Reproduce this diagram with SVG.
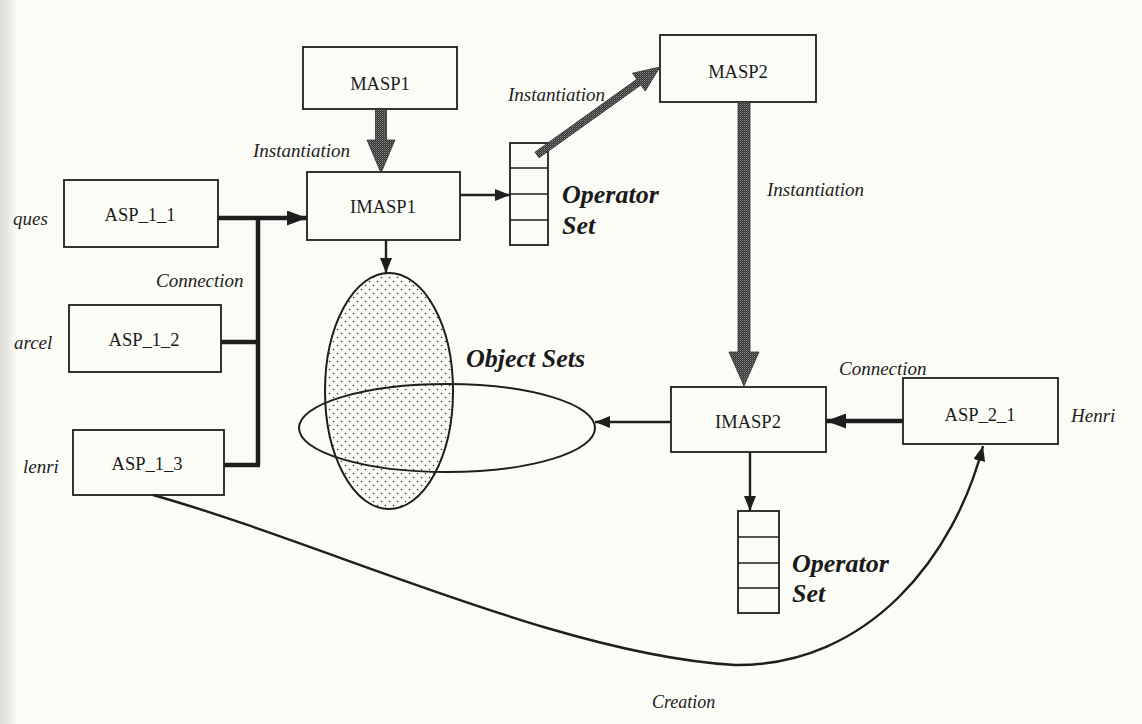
<svg xmlns="http://www.w3.org/2000/svg" width="1142" height="724" viewBox="0 0 1142 724">
<style>
.box{fill:none;stroke:#1e1e1e;stroke-width:1.8}
.lbl{font-family:"Liberation Serif","Times New Roman",serif;font-size:18.5px;fill:#1a1a1a;text-anchor:middle}
.it{font-family:"Liberation Serif","Times New Roman",serif;font-style:italic;font-size:19px;fill:#1e1e1e}
.bi{font-family:"Liberation Serif","Times New Roman",serif;font-style:italic;font-weight:bold;font-size:26px;fill:#1a1a1a}
.thin{fill:none;stroke:#1e1e1e;stroke-width:2.4}
.thick{fill:none;stroke:#1e1e1e;stroke-width:4.5}
.grey{fill:url(#dither);stroke:#2e2e2e;stroke-width:0.8}
.cell{stroke:#1e1e1e;stroke-width:1.6}
</style>
<defs>
<linearGradient id="gutter" x1="0" y1="0" x2="1" y2="0">
<stop offset="0" stop-color="#000" stop-opacity="0.13"/>
<stop offset="1" stop-color="#000" stop-opacity="0"/>
</linearGradient>
<pattern id="dots" patternUnits="userSpaceOnUse" width="8" height="8">
<circle cx="1.5" cy="1.5" r="0.8" fill="#333"/>
<circle cx="5.5" cy="5.5" r="0.8" fill="#333"/>
</pattern>
<pattern id="dither" patternUnits="userSpaceOnUse" width="2" height="2">
<rect width="2" height="2" fill="#333"/>
<rect width="1" height="1" fill="#8a8a8a"/>
<rect x="1" y="1" width="1" height="1" fill="#5a5a5a"/>
</pattern>
<marker id="ah" markerUnits="userSpaceOnUse" markerWidth="15" markerHeight="12" refX="15" refY="6" orient="auto">
<path d="M0,0 L15,6 L0,12 z" fill="#1e1e1e"/>
</marker>
<marker id="ahb" markerUnits="userSpaceOnUse" markerWidth="20" markerHeight="15" refX="20" refY="7.5" orient="auto">
<path d="M0,0 L20,7.5 L0,15 z" fill="#1e1e1e"/>
</marker>
</defs>
<rect width="1142" height="724" fill="#fcfcf7"/>
<rect width="18" height="724" fill="url(#gutter)"/>

<g id="object-sets">
<ellipse cx="389" cy="391" rx="64" ry="118" fill="url(#dots)" stroke="#1e1e1e" stroke-width="2"/>
<ellipse cx="447" cy="428" rx="148" ry="44" fill="none" stroke="#1e1e1e" stroke-width="2"/>
<text class="bi" x="466" y="367">Object Sets</text>
</g>

<g id="MASP1">
<rect class="box" x="303" y="47" width="154" height="62"/>
<text class="lbl" x="380" y="90">MASP1</text>
</g>
<g id="IMASP1">
<rect class="box" x="307" y="172" width="153" height="68"/>
<text class="lbl" x="383" y="213">IMASP1</text>
</g>
<g id="MASP2">
<rect class="box" x="660" y="35" width="156" height="67"/>
<text class="lbl" x="738" y="78">MASP2</text>
</g>
<g id="IMASP2">
<rect class="box" x="671" y="387" width="155" height="65"/>
<text class="lbl" x="748" y="428">IMASP2</text>
</g>
<g id="ASP_1_1">
<rect class="box" x="64" y="180" width="154" height="67"/>
<text class="lbl" x="140" y="221">ASP_1_1</text>
<text class="it" x="13" y="225">ques</text>
</g>
<g id="ASP_1_2">
<rect class="box" x="69" y="305" width="152" height="67"/>
<text class="lbl" x="144" y="346">ASP_1_2</text>
<text class="it" x="14" y="349">arcel</text>
</g>
<g id="ASP_1_3">
<rect class="box" x="73" y="430" width="151" height="65"/>
<text class="lbl" x="147" y="470">ASP_1_3</text>
<text class="it" x="23" y="473">lenri</text>
</g>
<g id="ASP_2_1">
<rect class="box" x="903" y="378" width="155" height="66"/>
<text class="lbl" x="980" y="421">ASP_2_1</text>
<text class="it" x="1071" y="422">Henri</text>
</g>
<g id="operator-set-1">
<rect class="box" x="510" y="143" width="38" height="102"/>
<line class="cell" x1="510" y1="168" x2="548" y2="168"/>
<line class="cell" x1="510" y1="194" x2="548" y2="194"/>
<line class="cell" x1="510" y1="220" x2="548" y2="220"/>
<text class="bi" x="562" y="203">Operator</text>
<text class="bi" x="562" y="234">Set</text>
</g>
<g id="operator-set-2">
<rect class="box" x="738" y="511" width="41" height="102"/>
<line class="cell" x1="738" y1="537" x2="779" y2="537"/>
<line class="cell" x1="738" y1="563" x2="779" y2="563"/>
<line class="cell" x1="738" y1="588" x2="779" y2="588"/>
<text class="bi" x="792" y="572">Operator</text>
<text class="bi" x="792" y="602">Set</text>
</g>

<g id="connectors">
<polygon class="grey" points="375.5,109 386.5,109 386.5,140 395,140 381,173 367,140 375.5,140"/>
<polygon class="grey" points="738,102 750,102 750,352 759,352 744,386 729,352 738,352"/>
<polygon class="grey" points="534.96,152.15 636.81,79.28 632.45,73.18 660,67 645.25,91.08 640.89,84.98 539.04,157.85"/>
<line class="thick" x1="218" y1="218" x2="307" y2="218" marker-end="url(#ahb)"/>
<polyline class="thick" points="258,218 258,465"/>
<line class="thick" x1="221" y1="342" x2="260" y2="342"/>
<line class="thick" x1="224" y1="465" x2="260" y2="465"/>
<line class="thin" x1="460" y1="195" x2="510" y2="195" marker-end="url(#ah)"/>
<line class="thin" x1="386" y1="240" x2="386" y2="273" marker-end="url(#ah)"/>
<line class="thick" x1="903" y1="421" x2="826" y2="421" marker-end="url(#ahb)"/>
<line class="thin" x1="671" y1="422" x2="595" y2="422" marker-end="url(#ah)"/>
<line class="thin" x1="750" y1="452" x2="750" y2="511" marker-end="url(#ah)"/>
<path class="thin" d="M153,495 C330,545 560,655 735,665 C870,666 955,555 983,446" marker-end="url(#ah)"/>
<text class="it" x="253" y="157">Instantiation</text>
<text class="it" x="508" y="101">Instantiation</text>
<text class="it" x="767" y="196">Instantiation</text>
<text class="it" x="156" y="287">Connection</text>
<text class="it" x="839" y="375">Connection</text>
<text class="it" x="652" y="708" style="font-size:18px">Creation</text>
</g>
</svg>
